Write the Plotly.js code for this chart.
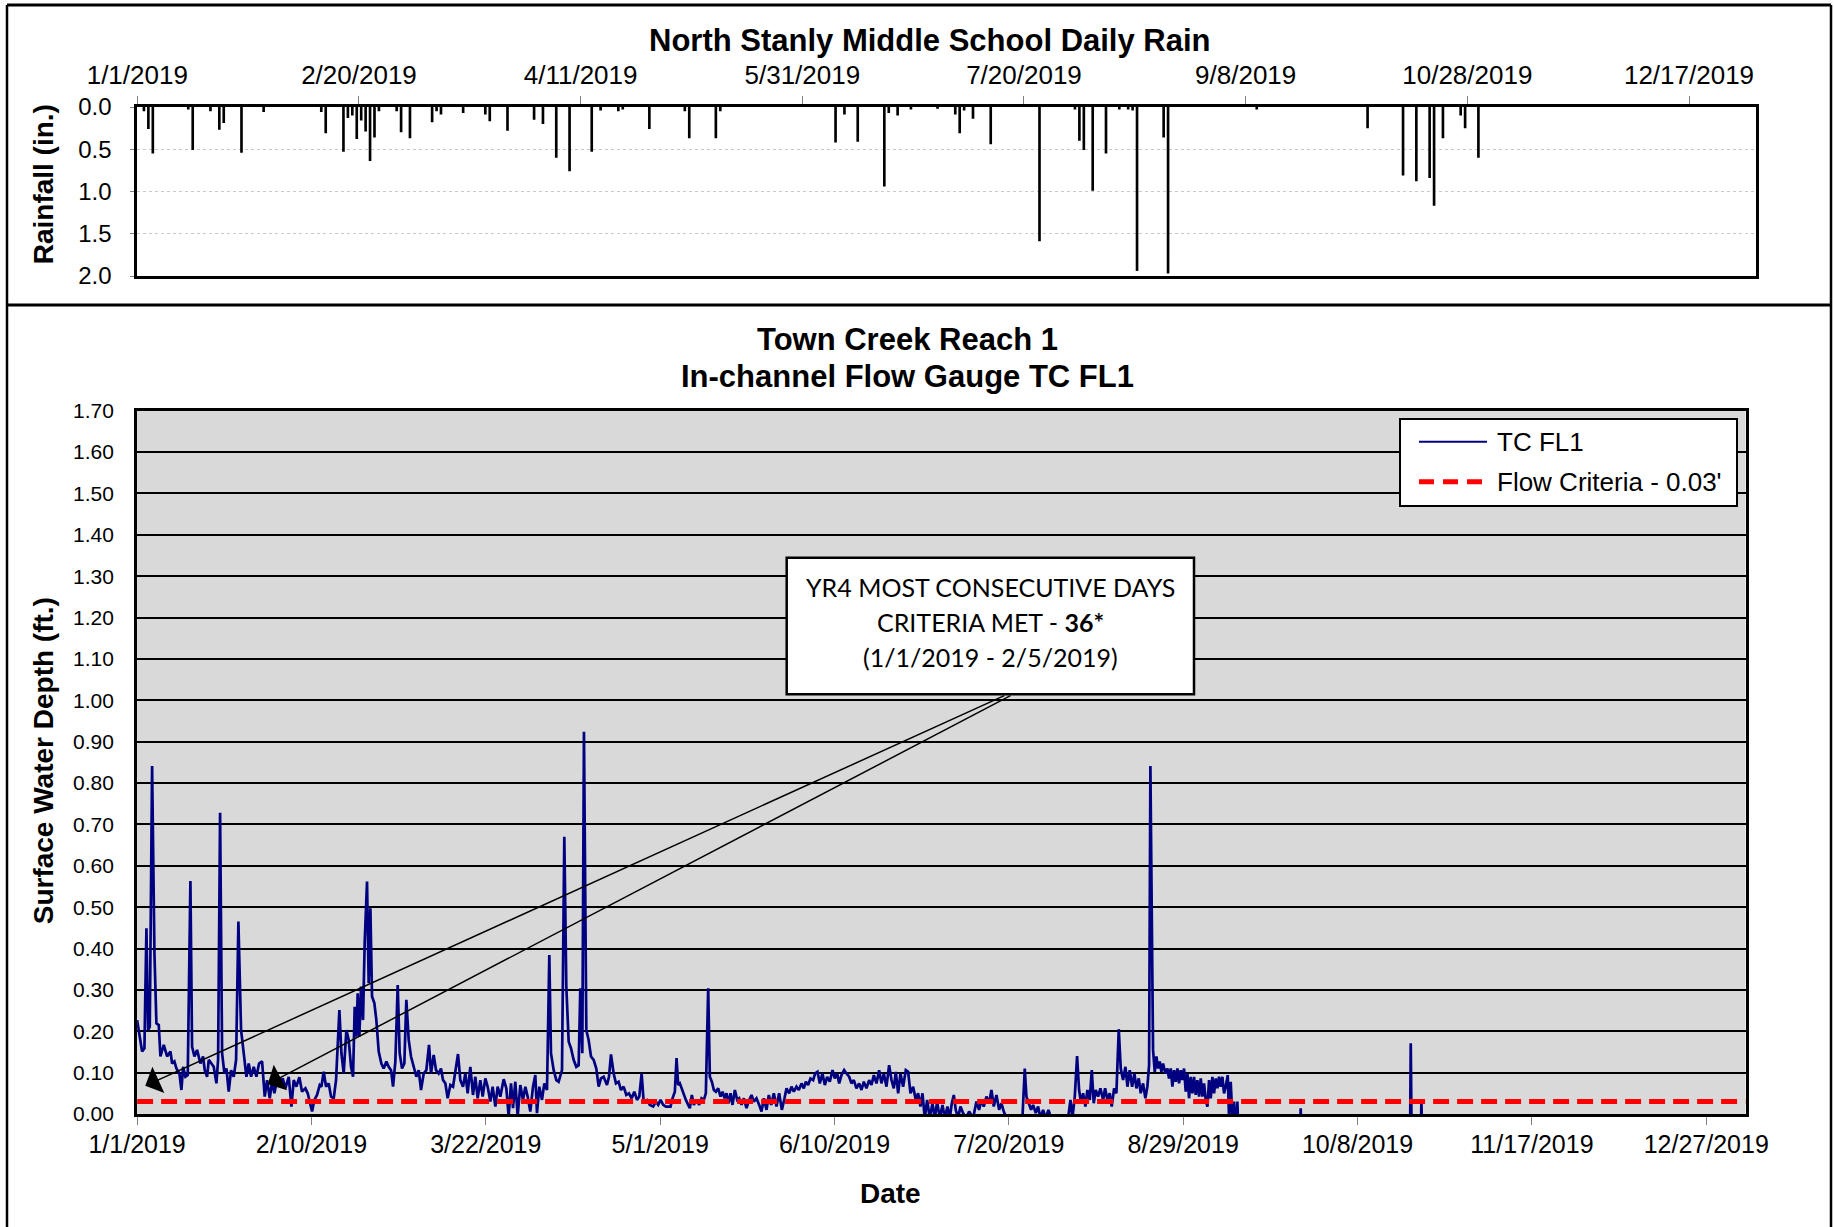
<!DOCTYPE html>
<html><head><meta charset="utf-8">
<script src="https://cdn.plot.ly/plotly-3.0.1.min.js"></script>
<style>html,body{margin:0;padding:0;background:#fff;}#chart{width:1834px;height:1227px;}</style>
</head><body><div id="chart"></div>
<script>
// ---------------- DATA ----------------
const rainDates = ['2019-01-02','2019-01-03','2019-01-04','2019-01-12','2019-01-13','2019-01-17','2019-01-19','2019-01-20','2019-01-24','2019-01-29',
 '2019-02-11','2019-02-12','2019-02-16','2019-02-17','2019-02-18','2019-02-19','2019-02-20','2019-02-21','2019-02-22','2019-02-23','2019-02-24','2019-02-28',
 '2019-03-01','2019-03-03','2019-03-08','2019-03-09','2019-03-10','2019-03-15','2019-03-20','2019-03-21','2019-03-25','2019-03-31',
 '2019-04-02','2019-04-05','2019-04-08','2019-04-13','2019-04-15','2019-04-19','2019-04-20','2019-04-26',
 '2019-05-04','2019-05-05','2019-05-11','2019-05-12',
 '2019-06-07','2019-06-09','2019-06-12','2019-06-18','2019-06-19','2019-06-21','2019-06-24','2019-06-30',
 '2019-07-04','2019-07-05','2019-07-06','2019-07-08','2019-07-12','2019-07-23','2019-07-31',
 '2019-08-01','2019-08-02','2019-08-04','2019-08-07','2019-08-10','2019-08-12','2019-08-13','2019-08-14','2019-08-20','2019-08-21',
 '2019-09-10','2019-10-05','2019-10-13','2019-10-16','2019-10-19','2019-10-20','2019-10-22','2019-10-26','2019-10-27','2019-10-30'];
const rainInches = [0.05,0.26,0.55,0.03,0.51,0.05,0.27,0.19,0.54,0.06,
 0.06,0.31,0.53,0.13,0.10,0.38,0.16,0.29,0.64,0.36,0.05,0.05,
 0.30,0.37,0.18,0.05,0.09,0.07,0.09,0.17,0.28,0.15,
 0.20,0.60,0.76,0.53,0.04,0.05,0.03,0.26,
 0.05,0.37,0.37,0.05,
 0.42,0.09,0.41,0.94,0.07,0.10,0.03,0.02,
 0.09,0.31,0.04,0.14,0.44,1.59,0.03,
 0.40,0.51,0.99,0.55,0.03,0.03,0.04,1.94,0.36,1.97,
 0.03,0.25,0.81,0.88,0.84,1.17,0.37,0.10,0.25,0.60];

// Flow gauge TC FL1: elapsed days since 1/1/2019 and surface water depth (ft)
const flowStart = '2019-01-01';
const flowDay = [0.00,0.76,1.15,1.68,2.14,2.52,2.91,3.44,3.98,4.43,4.97,5.35,6.12,6.88,7.65,8.03,8.56,9.02,9.71,10.17,10.55,11.09,11.62,12.23,12.61,13.15,13.76,14.53,15.14,15.52,16.06,16.44,16.97,17.58,18.20,18.58,19.04,19.50,20.03,20.49,21.02,21.56,22.17,22.71,23.24,23.85,24.46,25.08,25.61,26.15,26.76,27.37,27.98,28.67,29.28,29.82,30.43,30.96,31.50,32.11,32.72,33.41,34.02,34.79,35.40,35.93,36.54,37.23,37.84,38.61,39.14,39.76,40.14,40.67,41.28,41.90,42.28,42.81,43.35,43.96,44.50,45.11,45.64,46.41,46.87,47.40,48.01,48.55,49.08,49.54,49.92,50.31,50.61,50.99,51.38,51.83,52.22,52.75,53.13,53.52,53.90,54.43,54.89,55.43,56.04,56.57,57.19,57.72,58.26,58.72,59.25,59.79,60.24,60.78,61.31,61.77,62.31,62.84,63.46,64.07,64.60,65.14,65.75,66.36,66.97,67.43,68.04,68.58,69.19,69.72,70.18,70.72,71.25,71.87,72.48,73.01,73.62,74.16,74.77,75.31,75.84,76.45,77.06,77.60,78.13,78.75,79.28,79.89,80.43,81.04,81.57,82.19,82.72,83.33,84.10,84.71,85.24,85.78,86.24,86.77,87.31,87.92,88.53,89.07,89.60,90.21,90.83,91.36,91.74,92.28,92.89,93.43,94.04,94.57,94.95,95.57,96.18,96.71,97.48,98.01,98.47,99.01,99.54,100.15,100.76,101.30,101.68,102.14,102.52,103.06,103.59,104.13,104.74,105.35,105.89,106.42,107.03,107.80,108.26,108.72,109.33,109.86,110.47,111.01,111.62,112.23,112.84,113.46,114.07,114.68,115.21,115.75,116.21,116.97,
117.64,118.40,119.02,119.55,120.09,120.70,121.31,121.85,122.38,122.84,123.37,123.76,124.14,124.52,124.90,125.29,125.90,126.43,126.81,127.27,127.73,128.34,128.95,129.49,130.03,130.48,131.02,131.40,131.86,132.32,132.78,133.31,133.85,134.31,134.77,135.22,135.68,136.14,136.60,137.14,137.67,138.13,138.66,139.20,139.81,140.42,140.96,141.49,142.10,142.72,143.25,143.79,144.40,144.93,145.47,146.08,146.69,147.30,147.92,148.53,148.99,149.60,150.13,150.67,151.28,151.81,152.43,152.96,153.42,153.95,154.49,155.10,155.56,156.10,156.63,157.24,157.78,158.31,158.92,159.54,160.07,160.61,161.07,161.60,162.21,162.75,163.36,163.89,164.43,165.04,165.65,166.19,166.72,167.33,167.95,168.48,169.02,169.63,170.24,170.77,171.31,171.92,172.53,173.07,173.60,174.06,174.60,175.13,175.74,176.36,176.89,177.43,178.04,178.65,179.18,179.72,180.18,180.71,181.25,181.86,182.47,183.01,183.54,184.15,184.77,185.30,185.91,186.45,186.91,187.37,187.82,188.36,188.89,189.51,190.12,190.88,191.80,192.56,193.17,193.71,194.24,194.86,195.47,196.00,196.54,197.15,197.76,198.30,198.83,199.45,203.11,203.65,204.03,204.57,205.10,205.56,206.17,206.71,207.24,207.85,208.47,209.08,209.69,213.59,214.13,214.58,215.12,215.65,216.11,216.57,217.03,217.56,218.02,218.56,219.02,219.47,219.93,220.47,221.00,221.62,222.08,222.61,223.14,223.60,224.14,224.67,225.21,225.67,226.20,226.74,227.20,227.73,228.27,228.80,229.26,229.80,230.25,230.79,231.32,231.78,232.17,232.47,
233.08,233.47,233.85,234.23,234.61,235.00,235.38,235.91,236.37,236.75,237.14,237.52,237.90,238.28,238.67,239.05,239.43,239.81,240.19,240.58,240.96,241.34,241.72,242.11,242.49,242.87,243.25,243.64,244.02,244.40,244.78,245.16,245.55,245.93,246.31,246.69,247.08,247.46,247.84,248.22,248.60,248.99,249.37,249.75,250.21,250.52,250.90,251.28,251.66,252.04,252.43,252.66,
266.80,266.95,267.10,292.05,292.20,292.40,294.50,294.65,294.80,300.00];
const flowDepth = [0.227,0.175,0.151,0.159,0.449,0.203,0.211,0.841,0.388,0.219,0.215,0.139,0.167,0.139,0.151,0.122,0.127,0.110,0.098,0.058,0.114,0.090,0.094,0.563,0.163,0.139,0.155,0.122,0.139,0.106,0.090,0.131,0.122,0.114,0.074,0.131,0.728,0.147,0.098,0.110,0.054,0.106,0.090,0.131,0.465,0.203,0.147,0.090,0.122,0.090,0.114,0.090,0.122,0.127,0.042,0.082,0.038,0.078,0.050,0.082,0.074,0.086,0.062,0.090,0.018,0.082,0.066,0.089,0.054,0.062,0.050,0.026,0.006,0.034,0.046,0.070,0.066,0.102,0.066,0.074,0.042,0.038,0.082,0.251,0.147,0.098,0.203,0.179,0.114,0.090,0.259,0.187,0.292,0.187,0.308,0.227,0.417,0.562,0.316,0.497,0.284,0.268,0.227,0.151,0.122,0.110,0.127,0.114,0.106,0.066,0.127,0.312,0.147,0.110,0.122,0.276,0.179,0.139,0.114,0.090,0.106,0.058,0.098,0.106,0.167,0.098,0.143,0.106,0.098,0.110,0.082,0.074,0.038,0.070,0.066,0.106,0.145,0.082,0.066,0.098,0.050,0.114,0.046,0.090,0.038,0.082,0.042,0.086,0.066,0.030,0.066,0.018,0.066,0.042,0.084,0.062,-0.005,0.074,0.014,0.078,-0.005,0.070,0.034,0.066,0.042,0.006,0.066,0.094,0.002,0.066,0.034,0.074,0.058,0.384,0.147,0.106,0.082,0.078,0.106,0.670,0.308,0.175,0.159,0.131,0.114,0.118,0.304,0.147,0.924,0.203,0.179,0.139,0.131,0.110,0.066,0.086,0.090,0.070,0.090,0.144,0.098,0.074,0.078,0.058,0.066,0.046,0.050,0.038,0.054,0.034,0.042,0.098,0.030,0.034,
0.022,0.018,0.030,0.022,0.034,0.022,0.018,0.018,0.018,0.038,0.054,0.135,0.070,0.074,0.062,0.050,0.034,0.022,0.014,0.046,0.022,0.034,0.022,0.038,0.034,0.050,0.304,0.090,0.078,0.058,0.054,0.062,0.042,0.054,0.038,0.050,0.026,0.050,0.022,0.058,0.034,0.038,0.022,0.038,0.014,0.034,0.046,0.030,0.038,0.022,0.006,0.038,0.010,0.046,0.022,0.050,0.018,0.050,0.010,0.038,0.062,0.050,0.066,0.054,0.066,0.058,0.074,0.062,0.078,0.070,0.086,0.082,0.098,0.102,0.074,0.098,0.070,0.090,0.078,0.106,0.086,0.098,0.074,0.094,0.106,0.098,0.090,0.074,0.082,0.062,0.074,0.058,0.078,0.062,0.082,0.070,0.094,0.074,0.106,0.074,0.098,0.066,0.118,0.082,0.062,0.102,0.050,0.098,0.066,0.106,0.102,0.050,0.066,0.034,0.050,0.018,0.050,-0.010,0.034,-0.010,0.026,-0.010,0.030,-0.010,0.022,-0.010,0.018,-0.010,0.026,0.046,0.010,-0.010,0.018,0.002,-0.010,0.006,-0.010,0.030,0.010,0.034,0.018,0.042,0.026,0.058,0.018,0.046,0.010,0.026,0.006,-0.010,-0.010,0.110,0.042,0.026,0.010,0.022,0.002,0.018,-0.010,0.010,-0.010,0.010,-0.010,-0.010,0.034,-0.010,0.042,0.140,0.058,0.026,0.050,0.018,0.058,0.034,0.106,0.026,0.058,0.042,0.062,0.034,0.062,0.034,0.050,0.018,0.062,0.050,0.205,0.110,0.082,0.114,0.066,0.106,0.066,0.098,0.062,0.086,0.050,0.074,0.038,0.066,0.118,0.841,
0.155,0.102,0.139,0.110,0.127,0.102,0.122,0.098,0.110,0.086,0.110,0.066,0.106,0.078,0.110,0.074,0.106,0.082,0.110,0.054,0.098,0.038,0.090,0.050,0.090,0.046,0.082,0.042,0.086,0.042,0.074,0.034,0.018,0.082,0.038,0.090,0.050,0.086,0.062,0.090,0.066,0.090,0.050,0.066,0.094,-0.010,0.078,-0.010,0.030,-0.050,0.030,-0.050,
-0.050,0.014,-0.050,-0.050,0.171,-0.050,-0.050,0.030,-0.050,-0.050];

const criteriaDates = ['2019-01-01','2020-01-05'];
const criteriaDepth = [0.03, 0.03];

const topTickStepDays = 50;
const bottomTickStepDays = 40;

const calloutLines = ['YR4 MOST CONSECUTIVE DAYS', 'CRITERIA MET - <b>36*</b>', '(1/1/2019 - 2/5/2019)'];

// ---------------- LAYOUT HELPERS ----------------
const W = 1834, H = 1227, DAY = 86400000;
const px = x => x / W;
const py = y => 1 - y / H;
const ARIAL = '"Liberation Sans", Arial, sans-serif';
const CALIBRI = 'Lato, "Open Sans", sans-serif';
const T0 = Date.parse(flowStart + 'T00:00:00Z');

const traces = [
  {type:'bar', x: rainDates, y: rainInches, xaxis:'x2', yaxis:'y2',
   xperiod: DAY, xperiodalignment:'middle', width: 0.6*DAY,
   marker:{color:'#000', line:{width:0}}, hoverinfo:'x+y'},
  {type:'scatter', mode:'lines', name:'TC FL1',
   x: flowDay.map(d => T0 + d*DAY), y: flowDepth, xaxis:'x', yaxis:'y',
   line:{color:'#000080', width:2.7}},
  {type:'scatter', mode:'lines', name:"Flow Criteria - 0.03'",
   x: criteriaDates, y: criteriaDepth, xaxis:'x', yaxis:'y',
   line:{color:'#ff0000', width:5, dash:'16px,8px'}}
];

const calloutAnn = calloutLines.map((t, i) => ({
  xref:'paper', yref:'paper', x:px(990.3), y:py(587 + 35*i), xanchor:'center', yanchor:'middle',
  text:t, showarrow:false, font:{size:25, family:CALIBRI, color:'#000'}
}));

const layout = {
  width: W, height: H,
  margin:{l:0,r:0,t:0,b:0,autoexpand:false},
  paper_bgcolor:'#fff', plot_bgcolor:'#fff',
  showlegend:false,
  font:{family:ARIAL, color:'#000'},
  xaxis:{domain:[px(137.1), px(1745.5)], anchor:'y', type:'date',
    range:['2019-01-01','2020-01-05'], tick0:'2019-01-01', dtick: bottomTickStepDays*DAY,
    tickformat:'%-m/%-d/%Y', ticks:'outside', ticklen:8, tickwidth:1, tickcolor:'#808080',
    showline:true, linecolor:'#000', linewidth:3, mirror:true, showgrid:false, zeroline:false,
    tickfont:{size:25, family:ARIAL, color:'#000'}, ticklabelstandoff:-2},
  yaxis:{domain:[py(1114), py(410.7)], anchor:'x', range:[0,1.7], tick0:0, dtick:0.1,
    tickformat:'.2f', ticks:'', showgrid:true, gridcolor:'#000', gridwidth:2,
    showline:true, linecolor:'#000', linewidth:3, mirror:true, zeroline:false,
    tickfont:{size:21, family:ARIAL, color:'#000'}, ticklabelstandoff:16},
  xaxis2:{domain:[px(137.3), px(1755.5)], anchor:'y2', side:'top', type:'date',
    range:['2019-01-01','2020-01-01'], tick0:'2019-01-01', dtick: topTickStepDays*DAY,
    tickformat:'%-m/%-d/%Y', ticks:'outside', ticklen:8, tickwidth:1, tickcolor:'#808080',
    showline:true, linecolor:'#000', linewidth:3, mirror:true, showgrid:false, zeroline:false,
    tickfont:{size:26, family:ARIAL, color:'#000'}, ticklabelstandoff:2},
  yaxis2:{domain:[py(276), py(107)], anchor:'x2', range:[2,0], tick0:0, dtick:0.5,
    tickformat:'.1f', ticks:'outside', ticklen:4, tickcolor:'#808080',
    showgrid:true, gridcolor:'#c8c8c8', gridwidth:1, griddash:'dot',
    showline:true, linecolor:'#000', linewidth:3, mirror:true, zeroline:false,
    tickfont:{size:24, family:ARIAL, color:'#000'}, ticklabelstandoff:14},
  shapes:[
    {type:'rect', xref:'x domain', yref:'y domain', x0:0, x1:1, y0:0, y1:1,
     fillcolor:'#d9d9d9', line:{width:0}, layer:'below'},
    // outer frames
    {type:'line', xref:'paper', yref:'paper', x0:px(7), x1:px(1831), y0:py(5), y1:py(5), line:{color:'#000', width:3}},
    {type:'line', xref:'paper', yref:'paper', x0:px(7), x1:px(1831), y0:py(305), y1:py(305), line:{color:'#000', width:3}},
    {type:'line', xref:'paper', yref:'paper', x0:px(7), x1:px(7), y0:py(5), y1:py(1227), line:{color:'#000', width:2.5}},
    {type:'line', xref:'paper', yref:'paper', x0:px(1831), x1:px(1831), y0:py(5), y1:py(1227), line:{color:'#000', width:2.5}},
    // legend box
    {type:'rect', xref:'paper', yref:'paper', x0:px(1400), x1:px(1737), y0:py(506), y1:py(419),
     fillcolor:'#fff', line:{color:'#000', width:2}},
    {type:'line', xref:'paper', yref:'paper', x0:px(1419), x1:px(1487), y0:py(441.7), y1:py(441.7),
     line:{color:'#000080', width:2}},
    {type:'line', xref:'paper', yref:'paper', x0:px(1419), x1:px(1484), y0:py(481.7), y1:py(481.7),
     line:{color:'#ff0000', width:5, dash:'15px,9px'}},
    // callout box
    {type:'rect', xref:'paper', yref:'paper', x0:px(786.7), x1:px(1194), y0:py(694.3), y1:py(557.7),
     fillcolor:'#fff', line:{color:'#000', width:2.5}}
  ],
  annotations:[
    {xref:'paper', yref:'paper', x:px(930), y:py(41), text:'<b>North Stanly Middle School Daily Rain</b>',
     showarrow:false, xanchor:'center', yanchor:'middle', font:{size:31, family:ARIAL}},
    {xref:'paper', yref:'paper', x:px(43.3), y:py(184), text:'<b>Rainfall (in.)</b>', textangle:-90,
     showarrow:false, xanchor:'center', yanchor:'middle', font:{size:28, family:ARIAL}},
    {xref:'paper', yref:'paper', x:px(907.6), y:py(340), text:'<b>Town Creek Reach 1</b>',
     showarrow:false, xanchor:'center', yanchor:'middle', font:{size:31, family:ARIAL}},
    {xref:'paper', yref:'paper', x:px(907.6), y:py(376.6), text:'<b>In-channel Flow Gauge TC FL1</b>',
     showarrow:false, xanchor:'center', yanchor:'middle', font:{size:31, family:ARIAL}},
    {xref:'paper', yref:'paper', x:px(43.3), y:py(761), text:'<b>Surface Water Depth (ft.)</b>', textangle:-90,
     showarrow:false, xanchor:'center', yanchor:'middle', font:{size:28, family:ARIAL}},
    {xref:'paper', yref:'paper', x:px(890), y:py(1193), text:'<b>Date</b>',
     showarrow:false, xanchor:'center', yanchor:'middle', font:{size:28, family:ARIAL}},
    // legend texts
    {xref:'paper', yref:'paper', x:px(1495), y:py(441.7), text:'TC FL1',
     showarrow:false, xanchor:'left', yanchor:'middle', font:{size:26, family:ARIAL}},
    {xref:'paper', yref:'paper', x:px(1495), y:py(481.7), text:"Flow Criteria - 0.03'",
     showarrow:false, xanchor:'left', yanchor:'middle', font:{size:26, family:ARIAL}},
    // callout arrows
    {xref:'x', yref:'y', axref:'x', ayref:'y', x:'2019-01-02 21:00', y:0.068, ax:'2019-07-19 07:00', ay:1.013,
     text:'', showarrow:true, arrowhead:1, arrowsize:3.2, arrowwidth:1.5, arrowcolor:'#000', standoff:0},
    {xref:'x', yref:'y', axref:'x', ayref:'y', x:'2019-01-30 23:00', y:0.072, ax:'2019-07-20 17:00', ay:1.013,
     text:'', showarrow:true, arrowhead:1, arrowsize:3.2, arrowwidth:1.5, arrowcolor:'#000', standoff:0}
  ].concat(calloutAnn)
};

Plotly.newPlot('chart', traces, layout, {staticPlot:true, displayModeBar:false});
</script>
</body></html>
